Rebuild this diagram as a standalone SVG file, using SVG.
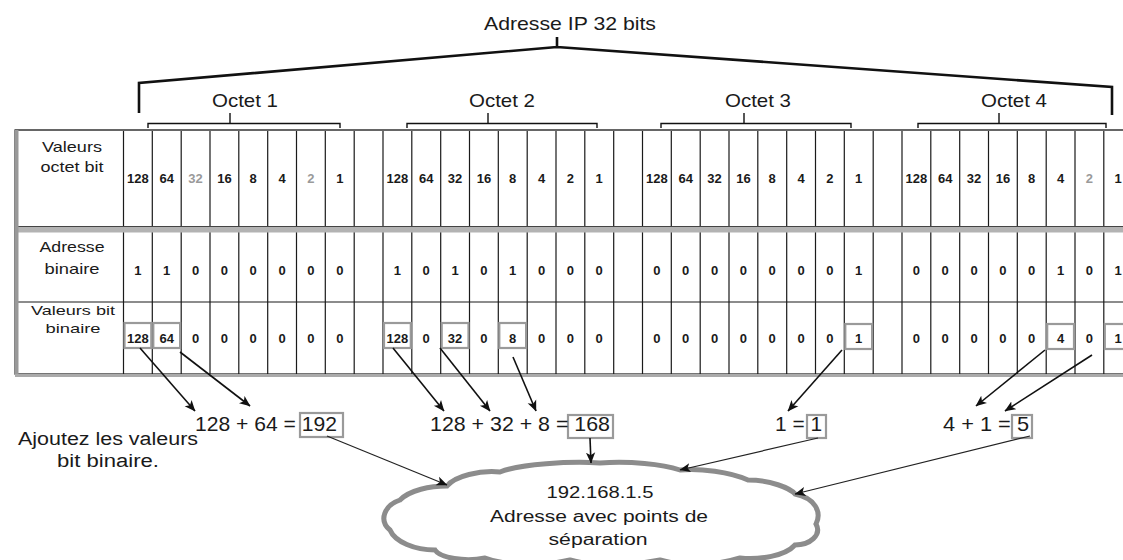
<svg xmlns="http://www.w3.org/2000/svg" width="1123" height="560" viewBox="0 0 1123 560">
<defs>
<marker id="ah" viewBox="0 0 10 10" refX="9.5" refY="5" markerWidth="11" markerHeight="11" markerUnits="userSpaceOnUse" orient="auto"><path d="M0,0.8 L10,5 L0,9.2 L2.5,5 z" fill="#111"/></marker>
<style>
text{font-family:"Liberation Sans",Arial,Helvetica,sans-serif;fill:#1a1a1a}
.t{font-size:19px;text-anchor:middle}
.lab{font-size:15px;text-anchor:middle}
.lab2{font-size:13.5px;text-anchor:middle}
.d{font-size:13px;font-weight:bold;text-anchor:middle}
.f{fill:#9a9a9a}
.eq{font-size:21px}
.cl{font-size:16px;text-anchor:middle}
.note{font-size:18px;text-anchor:middle}
.br{fill:none;stroke:#111;stroke-width:1.4}
.grid{fill:none;stroke:#1a1a1a;stroke-width:1.2}
.hl{fill:none;stroke:#9a9a9a;stroke-width:2.2}
.ar{fill:none;stroke:#111;stroke-width:1.6;marker-end:url(#ah)}
.ar2{fill:none;stroke:#222;stroke-width:1.2;marker-end:url(#ah)}
</style>
</defs>
<rect width="1123" height="560" fill="#fff"/>

<g id="title">
<text class="t" x="570" y="30" textLength="172" lengthAdjust="spacingAndGlyphs">Adresse IP 32 bits</text>
<path d="M139 113V83L557 47L1112 87V115M557 47V37" fill="none" stroke="#111" stroke-width="2.6"/>
</g>

<g id="octet1"><text class="t" x="245" y="107" textLength="66" lengthAdjust="spacingAndGlyphs">Octet 1</text><path class="br" d="M148 128V123.5H340V128M230 123.5V113"/></g>
<g id="octet2"><text class="t" x="502" y="107" textLength="66" lengthAdjust="spacingAndGlyphs">Octet 2</text><path class="br" d="M407 128V123.5H597V128M488 123.5V113"/></g>
<g id="octet3"><text class="t" x="758" y="107" textLength="66" lengthAdjust="spacingAndGlyphs">Octet 3</text><path class="br" d="M661 128V123.5H851V128M744 123.5V113"/></g>
<g id="octet4"><text class="t" x="1014" y="107" textLength="66" lengthAdjust="spacingAndGlyphs">Octet 4</text><path class="br" d="M918 128V123.5H1106V128M999 123.5V113"/></g>

<g id="table">
<rect x="15" y="130" width="1120" height="244" fill="#fff" stroke="#1a1a1a" stroke-width="1.2"/>
<path class="grid" d="M123.5 130V374M152.3 130V374M181.2 130V374M210 130V374M238.8 130V374M267.7 130V374M296.5 130V374M325.3 130V374M354.2 130V374M383 130V374M411.8 130V374M440.7 130V374M469.5 130V374M498.3 130V374M527.2 130V374M556 130V374M584.8 130V374M613.7 130V374M642.5 130V374M671.3 130V374M700.2 130V374M729 130V374M757.8 130V374M786.7 130V374M815.5 130V374M844.3 130V374M873.2 130V374M902 130V374M930.8 130V374M959.7 130V374M988.5 130V374M1017.3 130V374M1046.2 130V374M1075 130V374M1103.8 130V374M15 302H1123"/>
<line x1="15" y1="130" x2="1123" y2="130" stroke="#666" stroke-width="2"/>
<rect x="15" y="226.5" width="1110" height="6" fill="#b3b3b3"/>
<line x1="15" y1="226.5" x2="1123" y2="226.5" stroke="#444" stroke-width="1"/>
<line x1="16.5" y1="130" x2="16.5" y2="375" stroke="#999" stroke-width="4"/>
<line x1="15" y1="375.5" x2="1123" y2="375.5" stroke="#aaa" stroke-width="3"/>
</g>

<g id="row-labels">
<text class="lab" x="72" y="152" textLength="60" lengthAdjust="spacingAndGlyphs">Valeurs</text>
<text class="lab" x="72" y="172" textLength="63" lengthAdjust="spacingAndGlyphs">octet bit</text>
<text class="lab" x="72" y="252" textLength="65" lengthAdjust="spacingAndGlyphs">Adresse</text>
<text class="lab" x="72" y="274" textLength="55" lengthAdjust="spacingAndGlyphs">binaire</text>
<text class="lab2" x="73" y="315" textLength="84" lengthAdjust="spacingAndGlyphs">Valeurs bit</text>
<text class="lab2" x="73" y="333" textLength="55" lengthAdjust="spacingAndGlyphs">binaire</text>
</g>

<g id="row-octet-values">
<text class="d" x="137.9" y="183">128</text><text class="d" x="166.7" y="183">64</text><text class="d f" x="195.6" y="183">32</text><text class="d" x="224.4" y="183">16</text><text class="d" x="253.2" y="183">8</text><text class="d" x="282.1" y="183">4</text><text class="d f" x="310.9" y="183">2</text><text class="d" x="339.8" y="183">1</text>
<text class="d" x="397.4" y="183">128</text><text class="d" x="426.2" y="183">64</text><text class="d" x="455.1" y="183">32</text><text class="d" x="483.9" y="183">16</text><text class="d" x="512.7" y="183">8</text><text class="d" x="541.6" y="183">4</text><text class="d" x="570.4" y="183">2</text><text class="d" x="599.2" y="183">1</text>
<text class="d" x="656.9" y="183">128</text><text class="d" x="685.7" y="183">64</text><text class="d" x="714.6" y="183">32</text><text class="d" x="743.4" y="183">16</text><text class="d" x="772.2" y="183">8</text><text class="d" x="801.1" y="183">4</text><text class="d" x="829.9" y="183">2</text><text class="d" x="858.7" y="183">1</text>
<text class="d" x="916.4" y="183">128</text><text class="d" x="945.2" y="183">64</text><text class="d" x="974.1" y="183">32</text><text class="d" x="1002.9" y="183">16</text><text class="d" x="1031.7" y="183">8</text><text class="d" x="1060.6" y="183">4</text><text class="d f" x="1089.4" y="183">2</text><text class="d" x="1118.2" y="183">1</text>
</g>

<g id="row-binary">
<text class="d" x="137.9" y="275">1</text><text class="d" x="166.7" y="275">1</text><text class="d" x="195.6" y="275">0</text><text class="d" x="224.4" y="275">0</text><text class="d" x="253.2" y="275">0</text><text class="d" x="282.1" y="275">0</text><text class="d" x="310.9" y="275">0</text><text class="d" x="339.8" y="275">0</text>
<text class="d" x="397.4" y="275">1</text><text class="d" x="426.2" y="275">0</text><text class="d" x="455.1" y="275">1</text><text class="d" x="483.9" y="275">0</text><text class="d" x="512.7" y="275">1</text><text class="d" x="541.6" y="275">0</text><text class="d" x="570.4" y="275">0</text><text class="d" x="599.2" y="275">0</text>
<text class="d" x="656.9" y="275">0</text><text class="d" x="685.7" y="275">0</text><text class="d" x="714.6" y="275">0</text><text class="d" x="743.4" y="275">0</text><text class="d" x="772.2" y="275">0</text><text class="d" x="801.1" y="275">0</text><text class="d" x="829.9" y="275">0</text><text class="d" x="858.7" y="275">1</text>
<text class="d" x="916.4" y="275">0</text><text class="d" x="945.2" y="275">0</text><text class="d" x="974.1" y="275">0</text><text class="d" x="1002.9" y="275">0</text><text class="d" x="1031.7" y="275">0</text><text class="d" x="1060.6" y="275">1</text><text class="d" x="1089.4" y="275">0</text><text class="d" x="1118.2" y="275">1</text>
</g>

<g id="row-bit-values">
<rect class="hl" x="124.5" y="323" width="26.8" height="25"/><rect class="hl" x="153.3" y="323" width="26.8" height="25"/>
<rect class="hl" x="384" y="323" width="26.8" height="25"/><rect class="hl" x="441.7" y="323" width="26.8" height="25"/><rect class="hl" x="499.3" y="323" width="26.8" height="25"/>
<rect class="hl" x="845.3" y="324" width="26.8" height="25"/>
<rect class="hl" x="1047.2" y="324" width="26.8" height="25"/><rect class="hl" x="1104.8" y="324" width="26.8" height="25"/>
<text class="d" x="137.9" y="343">128</text><text class="d" x="166.7" y="343">64</text><text class="d" x="195.6" y="343">0</text><text class="d" x="224.4" y="343">0</text><text class="d" x="253.2" y="343">0</text><text class="d" x="282.1" y="343">0</text><text class="d" x="310.9" y="343">0</text><text class="d" x="339.8" y="343">0</text>
<text class="d" x="397.4" y="343">128</text><text class="d" x="426.2" y="343">0</text><text class="d" x="455.1" y="343">32</text><text class="d" x="483.9" y="343">0</text><text class="d" x="512.7" y="343">8</text><text class="d" x="541.6" y="343">0</text><text class="d" x="570.4" y="343">0</text><text class="d" x="599.2" y="343">0</text>
<text class="d" x="656.9" y="343">0</text><text class="d" x="685.7" y="343">0</text><text class="d" x="714.6" y="343">0</text><text class="d" x="743.4" y="343">0</text><text class="d" x="772.2" y="343">0</text><text class="d" x="801.1" y="343">0</text><text class="d" x="829.9" y="343">0</text><text class="d" x="858.7" y="343">1</text>
<text class="d" x="916.4" y="343">0</text><text class="d" x="945.2" y="343">0</text><text class="d" x="974.1" y="343">0</text><text class="d" x="1002.9" y="343">0</text><text class="d" x="1031.7" y="343">0</text><text class="d" x="1060.6" y="343">4</text><text class="d" x="1089.4" y="343">0</text><text class="d" x="1118.2" y="343">1</text>
</g>

<g id="eq1"><rect class="hl" x="300" y="413" width="43" height="24"/><text class="eq" x="195" y="431" textLength="142" lengthAdjust="spacingAndGlyphs">128 + 64 = 192</text></g>
<g id="eq2"><rect class="hl" x="568" y="415" width="45" height="23"/><text class="eq" x="430" y="431" textLength="180" lengthAdjust="spacingAndGlyphs">128 + 32 + 8 = 168</text></g>
<g id="eq3"><rect class="hl" x="807" y="415" width="19" height="23"/><text class="eq" x="775" y="431" textLength="47" lengthAdjust="spacingAndGlyphs">1 = 1</text></g>
<g id="eq4"><rect class="hl" x="1012" y="415" width="20" height="23"/><text class="eq" x="943" y="431" textLength="86" lengthAdjust="spacingAndGlyphs">4 + 1 = 5</text></g>

<g id="note">
<text class="note" x="108" y="445" textLength="180" lengthAdjust="spacingAndGlyphs">Ajoutez les valeurs</text>
<text class="note" x="108" y="467" textLength="102" lengthAdjust="spacingAndGlyphs">bit binaire.</text>
</g>

<g id="cloud">
<path d="M390 530C378 520 385 505 400 500C410 490 430 486 447 486C455 476 480 470 500 472C520 464 570 461 600 463C630 461 662 464 680 470C700 468 730 472 748 480C770 480 790 488 795 494C815 498 822 512 816 524C822 535 810 545 795 545C785 556 760 560 740 558C715 566 680 566 660 560C630 566 590 566 570 560C545 566 505 566 485 558C465 562 440 558 435 550C415 550 395 542 390 530Z" fill="#fff" stroke="#8c8c8c" stroke-width="5"/>
<text class="cl" x="600" y="498" textLength="107" lengthAdjust="spacingAndGlyphs">192.168.1.5</text>
<text class="cl" x="599" y="522" textLength="218" lengthAdjust="spacingAndGlyphs">Adresse avec points de</text>
<text class="cl" x="598" y="545" textLength="99" lengthAdjust="spacingAndGlyphs">séparation</text>
</g>

<g id="connectors">
<path class="ar" d="M140 348L195 411"/>
<path class="ar" d="M180 352L250 406"/>
<path class="ar" d="M393 348L444 411"/>
<path class="ar" d="M440 348L490 411"/>
<path class="ar" d="M513 357L536 411"/>
<path class="ar" d="M842 350L788 411"/>
<path class="ar" d="M1045 350L976 406"/>
<path class="ar" d="M1092 355L1005 411"/>
<path class="ar2" d="M327 436L447 485"/>
<path class="ar" d="M590 438L591 463"/>
<path class="ar2" d="M818 438L680 470"/>
<path class="ar2" d="M1030 436L795 494"/>
</g>
</svg>
